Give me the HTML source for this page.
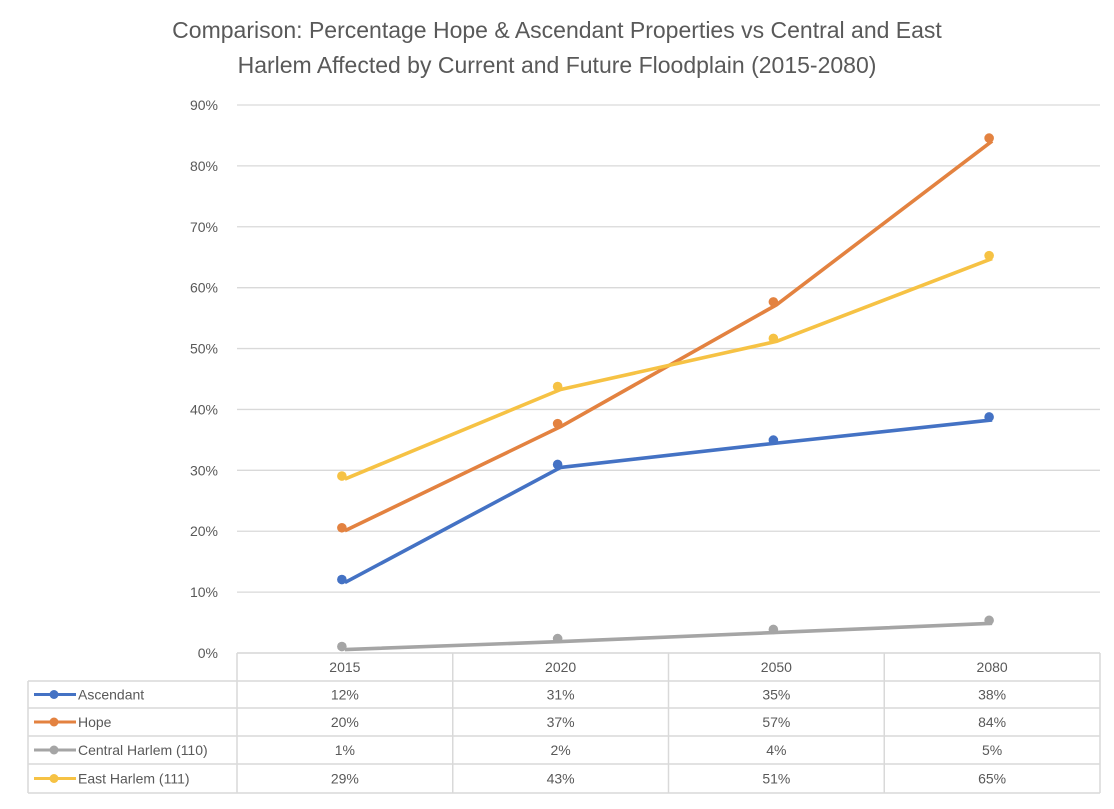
<!DOCTYPE html>
<html><head><meta charset="utf-8"><style>
body{margin:0;background:#fff;font-family:"Liberation Sans",sans-serif}
</style></head><body>
<svg id="c" width="1114" height="804" xmlns="http://www.w3.org/2000/svg" font-family="Liberation Sans, sans-serif" fill="#595959"></svg>
<script>
const categories=["2015","2020","2050","2080"];
const seriesNames=["Ascendant","Hope","Central Harlem (110)","East Harlem (111)"];
const ascendant=[11.9,30.8,34.8,38.6];
const hope=[20.4,37.5,57.5,84.4];
const central=[0.9,2.2,3.7,5.2];
const east=[28.9,43.6,51.5,65.1];
const tableLabels=[["12%","31%","35%","38%"],["20%","37%","57%","84%"],["1%","2%","4%","5%"],["29%","43%","51%","65%"]];
const yTicks=[0,10,20,30,40,50,60,70,80,90];
const colors=["#4472C4","#E38240","#A5A5A5","#F6C244"];
const ns="http://www.w3.org/2000/svg";
const svg=document.getElementById('c');
const L=237,R=1100,T=105,B=653;
const colW=(R-L)/categories.length;
const x=i=>L+colW*(i+0.5);
const y=v=>B-(v/90)*(B-T);
function el(t,a,p){const e=document.createElementNS(ns,t);for(const k in a)e.setAttribute(k,a[k]);(p||svg).appendChild(e);return e;}
function txt(s,a){const e=el('text',a);e.textContent=s;return e;}
let t=txt("Comparison: Percentage Hope & Ascendant Properties vs Central and East",{x:557,y:38,'text-anchor':'middle','font-size':23});

t=txt("Harlem Affected by Current and Future Floodplain (2015-2080)",{x:557,y:73,'text-anchor':'middle','font-size':23});

yTicks.forEach(v=>{
 const g=el('line',{x1:L,x2:R,y1:y(v),y2:y(v),stroke:'#D9D9D9','stroke-width':1.3});
 
 const l=txt(v+"%",{x:218,y:y(v)+5,'text-anchor':'end','font-size':14});
 
});
const all=[ascendant,hope,central,east];
[2,0,1,3].forEach(si=>{
 const d=all[si];
 const pts=d.map((v,i)=>(x(i))+","+(y(v)+2)).join(" ");
 const pl=el('polyline',{points:pts,fill:'none',stroke:colors[si],'stroke-width':3.6,'stroke-linejoin':'round'});
 
 d.forEach((v,i)=>{const c=el('circle',{cx:x(i)-3,cy:y(v)-1,r:4.8,fill:colors[si]});
  });
});
const rowsY=[653,681,708,736,764,793];
const TL=28;
const st={stroke:'#D9D9D9','stroke-width':1.5};
for(let i=0;i<=categories.length;i++){
 const xx=L+colW*i;
 el('line',Object.assign({x1:xx,x2:xx,y1:653,y2:793},st));
}
el('line',Object.assign({x1:TL,x2:TL,y1:681,y2:793},st));
rowsY.forEach((ry,i)=>el('line',Object.assign({x1:i==0?L:TL,x2:R,y1:ry,y2:ry},st)));
categories.forEach((c,i)=>{const e=txt(c,{x:x(i),y:672,'text-anchor':'middle','font-size':14});
 });
seriesNames.forEach((n,si)=>{
 const cy=(rowsY[si+1]+rowsY[si+2])/2;
 el('line',{x1:34,x2:76,y1:cy,y2:cy,stroke:colors[si],'stroke-width':3});
 const m=el('circle',{cx:54,cy:cy,r:4.5,fill:colors[si]});
 
 const e=txt(n,{x:78,y:cy+5,'font-size':14});
 
 tableLabels[si].forEach((s,i)=>{const c=txt(s,{x:x(i),y:cy+5,'text-anchor':'middle','font-size':14});
  });
});
</script>
</body></html>
